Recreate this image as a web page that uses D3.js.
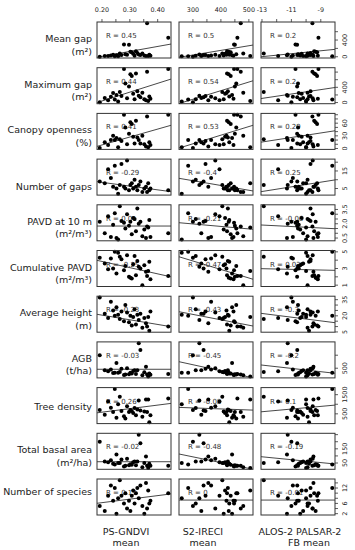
<!DOCTYPE html>
<html>
<head>
<meta charset="utf-8">
<script src="https://cdn.jsdelivr.net/npm/d3@7"></script>
<style>
  body { margin: 0; background: #fff; }
  svg { display: block; }
  text { font-family: "DejaVu Sans", Verdana, sans-serif; }
</style>
</head>
<body>
<svg id="chart" width="355" height="550"></svg>
<script>
// predictors, one value per plot
const gndvi = [0.192, 0.210, 0.222, 0.232, 0.240, 0.246, 0.252, 0.258, 0.264, 0.270, 0.279, 0.284, 0.290, 0.297, 0.302, 0.307, 0.312, 0.317, 0.322, 0.327, 0.332, 0.338, 0.345, 0.352, 0.358, 0.362, 0.366, 0.370, 0.374, 0.438];
const ireci = [300, 330, 395, 365, 420, 283, 440, 260, 405, 345, 447, 455, 380, 450, 428, 435, 415, 310, 422, 425, 323, 338, 480, 410, 355, 471, 505, 430, 445, 459];
const palsar = [-11.0, -10.2, -11.9, -10.9, -10.5, -8.22, -11.3, -10.0, -12.88, -9.7, -10.72, -10.55, -9.55, -10.61, -9.35, -9.25, -10.3, -9.9, -9.45, -9.7, -11.25, -10.6, -9.9, -10.4, -9.5, -9.57, -10.0, -9.8, -9.2, -9.16];

// forest structure variables, same plot order
const meanGap = [2, 20, 15, 30, 45, 10, 35, 10, 80, 40, 295, 60, 50, 285, 120, 110, 70, 25, 130, 90, 55, 40, 75, 30, 20, 800, 15, 45, 25, 456];
const maxGap = [5, 120, 60, 150, 250, 80, 200, 30, 280, 170, 880, 500, 110, 420, 740, 700, 230, 90, 760, 300, 180, 140, 260, 90, 60, 810, 40, 160, 100, 880];
const canopy = [1, 15, 8, 20, 30, 20, 25, 3, 22, 18, 80, 50, 10, 35, 62, 58, 28, 12, 66, 26, 20, 12, 30, 10, 5, 76, 3, 15, 8, 80];
const gapCount = [9, 8, 16, 11, 6, 18, 5, 2, 7, 19, 6, 5, 21, 4, 7, 8, 5, 10, 6, 4, 7, 9, 3, 5, 6, 3, 8, 4, 5, 4];
const pavd10 = [2.2, 1.0, 2.8, 0.6, 1.9, 3.1, 0.5, 0.35, 3.85, 2.3, 2.1, 1.5, 3.0, 1.8, 2.2, 0.9, 2.6, 2.5, 1.2, 3.6, 2.0, 2.2, 0.7, 1.4, 0.5, 1.7, 1.6, 2.4, 0.6, 1.0];
const cumPavd = [4.3, 3.6, 2.9, 4.2, 3.0, 5.0, 2.4, 4.9, 4.4, 4.1, 2.8, 3.3, 4.6, 2.0, 1.9, 1.8, 3.5, 4.5, 2.2, 3.9, 3.2, 3.0, 1.0, 3.4, 2.6, 2.1, 2.7, 3.8, 1.7, 2.1];
const avgHeight = [37, 22, 18, 33, 25, 20, 28, 21, 17, 24, 15, 30, 23, 14, 20, 11, 19, 26, 12, 21, 16, 22, 9, 18, 13, 10, 19, 6, 24, 10];
const agb = [1000, 420, 380, 450, 320, 330, 700, 330, 360, 480, 240, 260, 500, 270, 330, 300, 390, 420, 280, 420, 1460, 1200, 230, 350, 560, 260, 180, 300, 250, 280];
const treeDensity = [700, 450, 1150, 820, 600, 1800, 300, 1000, 1390, 650, 380, 260, 900, 600, 700, 650, 550, 800, 420, 720, 1200, 680, 350, 620, 1250, 600, 1250, 60, 430, 1300];
const basalArea = [200, 60, 55, 70, 45, 40, 110, 50, 50, 75, 25, 30, 80, 35, 42, 38, 55, 60, 35, 60, 250, 190, 20, 50, 95, 30, 15, 45, 30, 30];
const species = [5, 3, 9, 13, 7, 12, 2, 8, 15, 9, 6, 10, 4, 7, 3, 9, 11, 6, 10, 12, 8, 13, 5, 2, 14, 4, 11, 6, 7, 10];

const colNames = [["PS-GNDVI", "mean"], ["S2-IRECI", "mean"], ["ALOS-2 PALSAR-2", "FB mean"]];
const xTicks = [[0.20, 0.25, 0.30, 0.35, 0.40], [300, 350, 400, 450, 500], [-13, -12, -11, -10, -9]];
const xTickLabels = [["0.20", "0.30", "0.40"], ["300", "400", "500"], ["-13", "-11", "-9"]];

const rowNames = [["Mean gap", "(m²)"], ["Maximum gap", "(m²)"], ["Canopy openness", "(%)"], ["Number of gaps"],
  ["PAVD at 10 m", "(m²/m³)"], ["Cumulative PAVD", "(m²/m³)"], ["Average height", "(m)"], ["AGB", "(t/ha)"],
  ["Tree density"], ["Total basal area", "(m²/ha)"], ["Number of species"]];
const yTicks = [[0, 200, 400, 600], [0, 200, 400, 600, 800], [0, 10, 20, 30, 40, 50, 60, 70, 80], [5, 10, 15, 20],
  [0.5, 1, 1.5, 2, 2.5, 3, 3.5], [1, 2, 3, 4, 5], [5, 10, 15, 20, 25, 30, 35], [500, 1000],
  [500, 1000, 1500], [50, 100, 150, 200, 250], [2, 4, 6, 8, 10, 12, 14]];
const yTickLabels = [["0", "400"], ["0", "400"], ["0", "30", "60"], ["5", "15"], ["0.5", "2.0", "3.5"], ["1", "3", "5"],
  ["5", "20", "35"], ["500"], ["500", "1500"], ["50", "150"], ["2", "6", "12"]];

// correlation coefficients printed in each panel
const rText = [["0.45", "0.5", "0.2"], ["0.44", "0.54", "0.2"], ["0.41", "0.53", "0.29"], ["-0.29", "-0.4", "0.25"],
  ["0.01", "-0.21", "-0.06"], ["-0.25", "-0.47", "0.03"], ["-0.23", "-0.43", "-0.3"], ["-0.03", "-0.45", "-0.2"],
  ["0.26", "-0.08", "0.1"], ["-0.02", "-0.48", "-0.19"], ["0.19", "0", "-0.01"]];
// fitted line, y value at the left and right end of each panel
const fitEnds = [
  [[-14, 304], [-14, 280], [0, 177]],
  [[0, 616], [-26, 572], [105, 395]],
  [[5, 55], [1, 55], [15, 42]],
  [[8.9, 3.2], [10.8, 3.6], [3.2, 9.9]],
  [[1.76, 1.76], [2.11, 1.42], [1.87, 1.48]],
  [[3.98, 2.0], [4.41, 1.71], [2.98, 2.78]],
  [[21.4, 9.9], [23.8, 10.5], [22.3, 13.6]],
  [[460, 460], [751, 130], [625, 306]],
  [[553, 1045], [836, 694], [605, 956]],
  [[59, 59], [113.5, 6], [94.5, 43]],
  [[6.05, 9.7], [7.3, 7.3], [7.3, 7.3]]
];

const predictors = [gndvi, ireci, palsar];
const responses = [meanGap, maxGap, canopy, gapCount, pavd10, cumPavd, avgHeight, agb, treeDensity, basalArea, species];

const svg = d3.select("#chart");
const colLeft = [97, 179, 261], panelW = 74, panelH = 36, rowTop0 = 22, rowStep = 45.7;
const ink = "#222";

// R-style axis limits: data range plus 4% each side
function padded(vals) {
  const [a, b] = d3.extent(vals);
  const p = (b - a) * 0.04;
  return [a - p, b + p];
}

const xScales = predictors.map((p, j) =>
  d3.scaleLinear().domain(padded(p)).range([colLeft[j], colLeft[j] + panelW]));

// top axes
xScales.forEach((x, j) => {
  const g = svg.append("g");
  g.selectAll("line").data(xTicks[j]).enter().append("line")
    .attr("x1", d => x(d)).attr("x2", d => x(d))
    .attr("y1", rowTop0).attr("y2", rowTop0 - 3)
    .attr("stroke", "#333").attr("stroke-width", 0.8);
  g.selectAll("text").data(xTickLabels[j]).enter().append("text")
    .attr("x", d => x(+d)).attr("y", 10)
    .attr("text-anchor", "middle").attr("dominant-baseline", "central")
    .attr("font-size", 6.4).attr("fill", ink)
    .text(d => d);
});

const defs = svg.append("defs");

responses.forEach((vals, i) => {
  const top = rowTop0 + i * rowStep;
  const y = d3.scaleLinear().domain(padded(vals)).range([top + panelH, top]);

  // row label
  const names = rowNames[i];
  const cy = top + panelH / 2 + (names.length === 1 ? ({3: 9, 10: -6}[i] || 0) : -2);
  svg.append("text")
    .attr("x", 92).attr("y", cy)
    .attr("text-anchor", "end").attr("dominant-baseline", "central")
    .attr("font-size", 9.5).attr("fill", ink)
    .selectAll("tspan").data(names).enter().append("tspan")
    .attr("x", 92).attr("dy", (d, k) => k === 0 ? 0 : 12.5)
    .text(d => d);

  // right axis
  const ra = svg.append("g");
  const rx = colLeft[2] + panelW;
  ra.selectAll("line").data(yTicks[i].filter(t => t >= y.domain()[0] && t <= y.domain()[1])).enter().append("line")
    .attr("x1", rx).attr("x2", rx + 3)
    .attr("y1", d => y(d)).attr("y2", d => y(d))
    .attr("stroke", "#333").attr("stroke-width", 0.8);
  ra.selectAll("text").data(yTickLabels[i]).enter().append("text")
    .attr("transform", d => `translate(${rx + 10},${y(+d)}) rotate(-90)`)
    .attr("text-anchor", "middle").attr("dominant-baseline", "central")
    .attr("font-size", 6.4).attr("fill", ink)
    .text(d => d);

  xScales.forEach((x, j) => {
    const left = colLeft[j];
    const clipId = `clip-${i}-${j}`;
    defs.append("clipPath").attr("id", clipId)
      .append("rect").attr("x", left).attr("y", top).attr("width", panelW).attr("height", panelH);

    const panel = svg.append("g");

    panel.append("text")
      .attr("x", left + 9).attr("y", top + 14)
      .attr("dominant-baseline", "central")
      .attr("font-size", 7).attr("fill", "#333")
      .text(`R = ${rText[i][j]}`);

    const ends = fitEnds[i][j];
    panel.append("line")
      .attr("clip-path", `url(#${clipId})`)
      .attr("x1", x(x.domain()[0])).attr("y1", y(ends[0]))
      .attr("x2", x(x.domain()[1])).attr("y2", y(ends[1]))
      .attr("stroke", "#333").attr("stroke-width", 0.9);

    panel.selectAll("circle").data(vals).enter().append("circle")
      .attr("cx", (d, k) => x(predictors[j][k]))
      .attr("cy", d => y(d))
      .attr("r", 2)
      .attr("fill", "#000");

    panel.append("rect")
      .attr("x", left).attr("y", top).attr("width", panelW).attr("height", panelH)
      .attr("fill", "none").attr("stroke", "#333").attr("stroke-width", 1);
  });
});

// column titles
const colCenters = [[126, 126], [203, 203], [300, 309]];
colNames.forEach((lines, j) => {
  lines.forEach((t, k) => {
    svg.append("text")
      .attr("x", colCenters[j][k]).attr("y", 531 + k * 11)
      .attr("text-anchor", "middle").attr("dominant-baseline", "central")
      .attr("font-size", 9.5).attr("fill", ink)
      .text(t);
  });
});
</script>
</body>
</html>
